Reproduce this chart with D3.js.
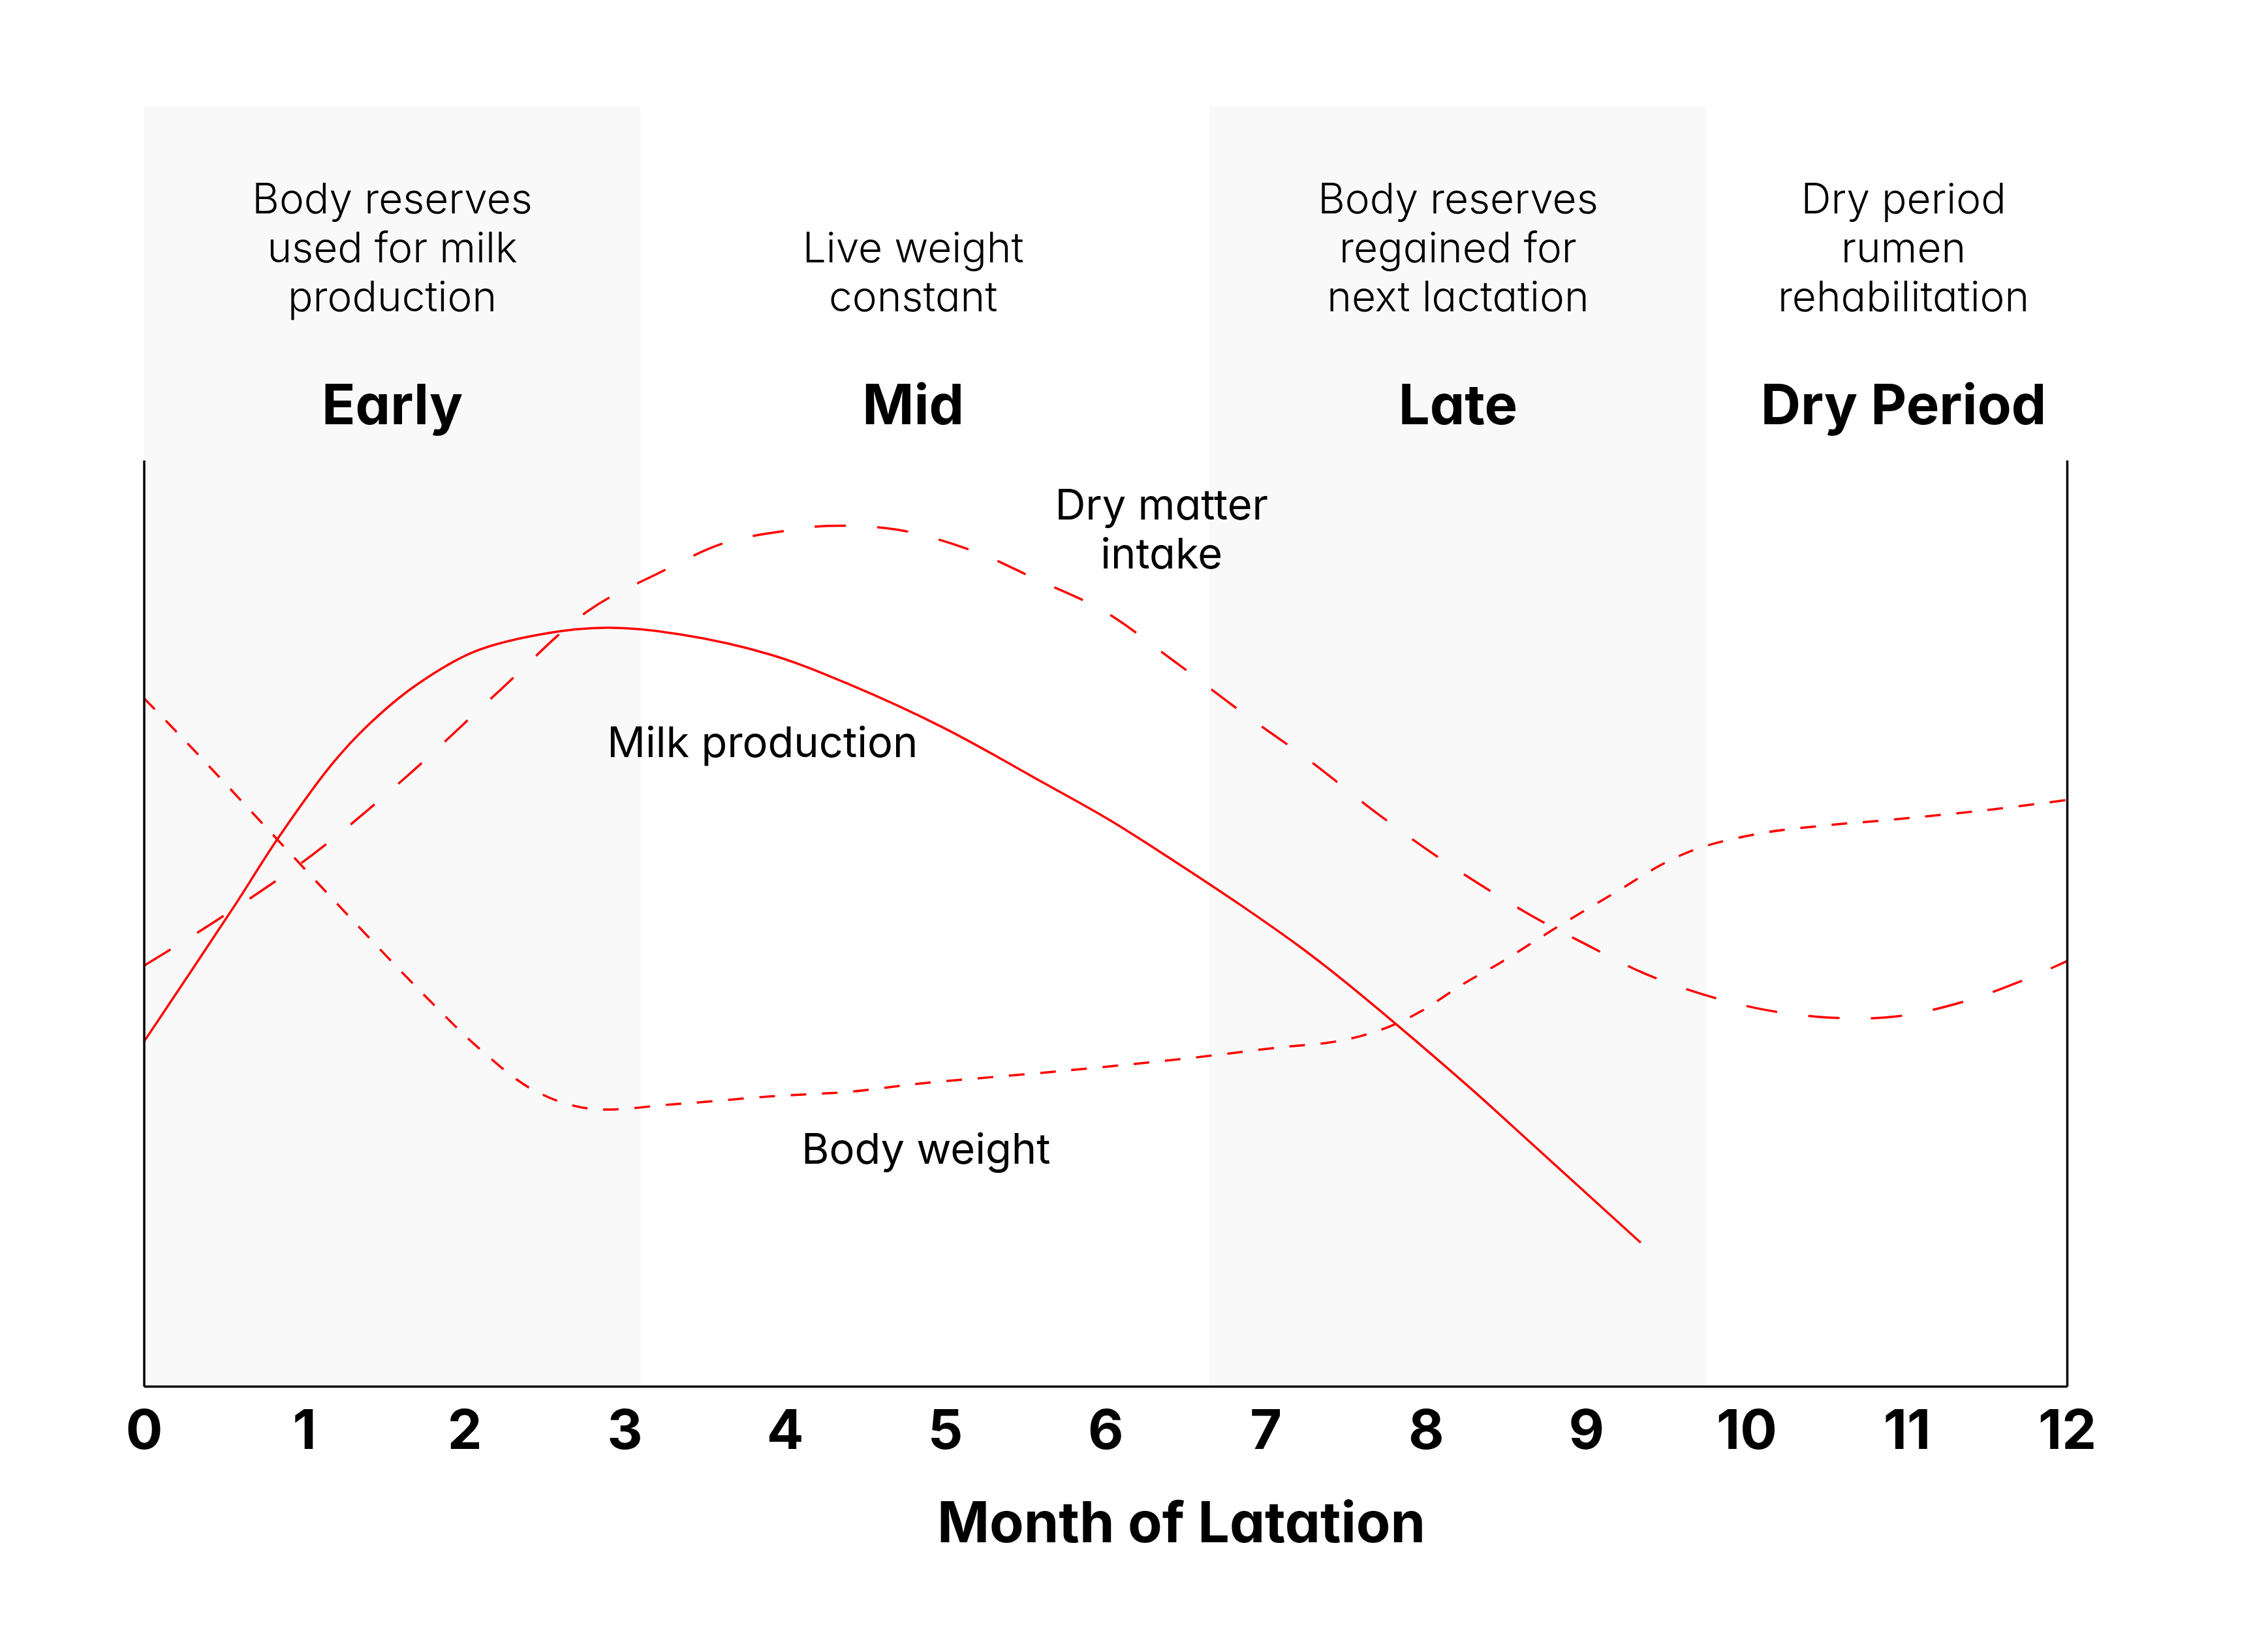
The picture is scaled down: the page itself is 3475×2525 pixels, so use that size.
<!DOCTYPE html>
<html>
<head>
<meta charset="utf-8">
<script src="https://cdn.jsdelivr.net/npm/d3@7"></script>
<style>
  html, body { margin: 0; padding: 0; background: #ffffff; }
  svg { display: block; }
  text { font-family: Inter, "Open Sans", sans-serif; font-feature-settings: "cv11"; fill: #000; }
</style>
</head>
<body>
<svg id="chart" width="3475" height="2525"></svg>
<script>
// ---------- DATA ----------
const tickMonths = [0, 1, 2, 3, 4, 5, 6, 7, 8, 9, 10, 11, 12];
const tickLabels = ["0", "1", "2", "3", "4", "5", "6", "7", "8", "9", "10", "11", "12"];
const xTitle = "Month of Latation";

const phaseNames = ["Early", "Mid", "Late", "Dry Period"];
const phaseStart = [0, 3.10, 6.65, 9.75];
const phaseEnd = [3.10, 6.65, 9.75, 12];
const phaseShaded = [true, false, true, false];
const phaseLabelMonth = [1.55, 4.80, 8.20, 10.98];
const phaseNotes = [
  ["Body reserves", "used for milk", "production"],
  ["Live weight", "constant"],
  ["Body reserves", "regained for", "next lactation"],
  ["Dry period", "rumen", "rehabilitation"]
];

// Milk production (solid)
const milkMonth = [0, 0.57, 0.83, 1.17, 1.40, 1.69, 2.06, 2.48, 2.89, 3.34, 3.91, 4.40, 4.99, 5.62, 6.03, 6.43, 6.84, 7.21, 7.45, 7.80, 8.27, 8.66, 9.34];
const milkValue = [37.2, 52.0, 59.0, 67.1, 71.4, 75.6, 79.3, 81.2, 81.9, 81.2, 79.0, 75.8, 71.1, 65.1, 61.1, 56.7, 52.0, 47.5, 44.3, 39.3, 32.3, 26.2, 15.5];

// Dry matter intake (long dash)
const dmiMonth = [0, 0.48, 1.06, 1.63, 2.20, 2.77, 3.20, 3.63, 4.06, 4.27, 4.70, 5.19, 5.56, 5.99, 6.42, 6.85, 7.27, 7.70, 8.13, 8.63, 9.00, 9.36, 9.75, 10.13, 10.53, 10.92, 11.33, 11.72, 12];
const dmiValue = [45.4, 50.6, 57.5, 65.7, 74.8, 83.7, 87.7, 91.1, 92.5, 92.9, 92.5, 90.1, 87.2, 83.7, 78.4, 72.8, 67.6, 61.8, 56.5, 51.1, 47.7, 44.6, 42.2, 40.6, 39.8, 39.9, 41.4, 43.8, 45.9];

// Body weight (short dash)
const bwMonth = [0, 0.29, 0.77, 1.26, 1.74, 2.11, 2.43, 2.77, 3.34, 3.91, 4.40, 4.85, 5.70, 6.56, 7.09, 7.39, 7.59, 7.78, 7.97, 8.22, 8.48, 8.82, 9.18, 9.49, 9.72, 10.12, 10.52, 10.92, 11.49, 12];
const bwValue = [74.3, 69.1, 60.2, 51.1, 42.4, 36.2, 32.0, 30.0, 30.5, 31.3, 31.8, 32.7, 34.0, 35.5, 36.6, 37.1, 37.8, 38.9, 40.5, 43.3, 45.9, 49.6, 53.3, 56.5, 58.2, 59.8, 60.6, 61.2, 62.2, 63.3];

// Curve labels (month, value)
const curveLabelText = [["Dry matter", "intake"], ["Milk production"], ["Body weight"]];
const curveLabelMonth = [6.35, 3.86, 4.88];
const curveLabelValue = [93.6, 67.9, 24.0];

(function () {
  // ---------- LAYOUT ----------
  const pL = 220.5, pR = 3167, pB = 2124, pT = 705;
  const bandTop = 163;
  const red = "#ff0000";

  const svg = d3.select("#chart");
  const x = d3.scaleLinear().domain([0, 12]).range([pL, pR]);
  const y = d3.scaleLinear().domain([0, 100]).range([pB, pT]);

  const phases = phaseNames.map((n, i) => ({ name: n, s: phaseStart[i], e: phaseEnd[i], shaded: phaseShaded[i], lm: phaseLabelMonth[i], notes: phaseNotes[i] }));
  svg.append("g").selectAll("rect").data(phases.filter(p => p.shaded)).join("rect")
    .attr("x", d => x(d.s)).attr("width", d => x(d.e) - x(d.s))
    .attr("y", bandTop).attr("height", pB - bandTop)
    .attr("fill", "#f9f9f9");

  svg.append("g").selectAll("text").data(phases).join("text")
    .attr("x", d => x(d.lm)).attr("y", 650)
    .attr("text-anchor", "middle")
    .attr("font-size", 85).attr("font-weight", 700)
    .text(d => d.name);

  const lineH = 75, lastBase = 477;
  phases.forEach(p => {
    const n = p.notes.length;
    svg.append("g").selectAll("text").data(p.notes).join("text")
      .attr("x", x(p.lm))
      .attr("y", (d, i) => lastBase - (n - 1 - i) * lineH)
      .attr("text-anchor", "middle")
      .attr("font-size", 64).attr("font-weight", 300)
      .text(d => d);
  });

  const line = d3.line().x(d => x(d[0])).y(d => y(d[1])).curve(d3.curveCatmullRom.alpha(0.5));
  const series = [
    { pts: d3.zip(dmiMonth, dmiValue), dash: "48,48" },
    { pts: d3.zip(bwMonth, bwValue), dash: "24,24" },
    { pts: d3.zip(milkMonth, milkValue), dash: null }
  ];
  svg.append("g").selectAll("path").data(series).join("path")
    .attr("d", d => line(d.pts))
    .attr("fill", "none").attr("stroke", red).attr("stroke-width", 3.5)
    .attr("stroke-dasharray", d => d.dash);

  curveLabelText.forEach((lines, i) => {
    svg.append("g").selectAll("text").data(lines).join("text")
      .attr("x", x(curveLabelMonth[i]))
      .attr("y", (d, j) => y(curveLabelValue[i]) + j * 75)
      .attr("text-anchor", "middle")
      .attr("font-size", 65).attr("font-weight", 400)
      .text(d => d);
  });

  const xAxis = d3.axisBottom(x).tickValues(tickMonths).tickFormat((d, i) => tickLabels[i]).tickSize(0).tickSizeOuter(0);
  const gx = svg.append("g").attr("transform", `translate(0,${pB})`).call(xAxis);
  gx.attr("font-family", null).attr("font-size", null);
  gx.select(".domain").attr("stroke", "#000").attr("stroke-width", 3.5);
  gx.selectAll(".tick text")
    .attr("y", 96).attr("dy", 0)
    .attr("font-size", 84).attr("font-weight", 700);

  const gyl = svg.append("g").attr("transform", `translate(${pL},0)`).call(d3.axisLeft(y).tickValues([]).tickSizeOuter(0));
  gyl.select(".domain").attr("stroke", "#000").attr("stroke-width", 3.5);
  const gyr = svg.append("g").attr("transform", `translate(${pR},0)`).call(d3.axisRight(y).tickValues([]).tickSizeOuter(0));
  gyr.select(".domain").attr("stroke", "#000").attr("stroke-width", 3.5);

  svg.append("text")
    .attr("x", 1810).attr("y", 2363)
    .attr("text-anchor", "middle")
    .attr("font-size", 86).attr("font-weight", 700)
    .text(xTitle);
})();
</script>
</body>
</html>
